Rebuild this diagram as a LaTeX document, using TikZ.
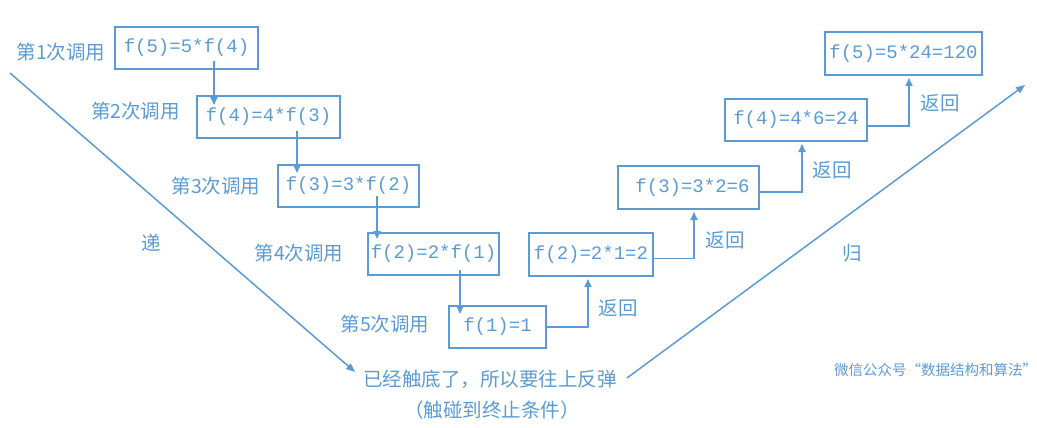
\documentclass[tikz,border=0pt]{standalone}
\usepackage{fontspec}
\setmainfont{Noto Sans CJK SC}
\newfontfamily\codefont{Liberation Mono}
\usetikzlibrary{arrows.meta}
\definecolor{mblue}{HTML}{5B9BD5}
\tikzset{
  box/.style={draw=mblue, line width=2pt, minimum height=42pt, inner sep=0pt, text=mblue, font=\codefont\fontsize{19}{19}\selectfont},
  lbl/.style={text=mblue, inner sep=0pt, font=\fontsize{19.5}{20}\selectfont},
  conn/.style={draw=mblue, line width=1.8pt, -{Triangle[length=8pt,width=7pt]}},
  vline/.style={draw=mblue, line width=1.5pt, -{Triangle[length=9pt,width=7pt]}}
}
\begin{document}
\begin{tikzpicture}[x=1pt,y=-1pt]
\useasboundingbox (0,0) rectangle (1037,428);
% call boxes
\node[box, minimum width=143pt] (b1) at (186.5,48) {f(5)=5*f(4)};
\node[box, minimum width=143pt] (b2) at (268.5,117) {f(4)=4*f(3)};
\node[box, minimum width=141pt] (b3) at (348.5,186) {f(3)=3*f(2)};
\node[box, minimum width=131pt] (b4) at (433.5,254) {f(2)=2*f(1)};
\node[box, minimum width=97pt] (b5) at (497.5,327) {f(1)=1};
% return boxes
\node[box, minimum width=124pt, minimum height=43pt] (b6) at (591,254.5) {f(2)=2*1=2};
\node[box, minimum width=141pt, minimum height=43pt] (b7) at (688.5,187.5) {\hspace{8pt}f(3)=3*2=6};
\node[box, minimum width=142pt] (b8) at (796,120) {f(4)=4*6=24};
\node[box, minimum width=157pt, minimum height=43pt] (b9) at (903.5,53.5) {f(5)=5*24=120};
% call labels
\node[lbl] (c1) at (61,52) {第1次调用};
\node[lbl] (c2) at (135.5,111) {第2次调用};
\node[lbl] (c3) at (216,186) {第3次调用};
\node[lbl] (c4) at (299,253) {第4次调用};
\node[lbl] (c5) at (385,324) {第5次调用};
% return labels
\node[lbl] (r1) at (618,308) {返回};
\node[lbl] (r2) at (725,240) {返回};
\node[lbl] (r3) at (832,170) {返回};
\node[lbl] (r4) at (940,103) {返回};
\node[lbl] (di) at (151,243) {递};
\node[lbl] (gui) at (852,253) {归};
\node[lbl] (bottom) at (490,379) {已经触底了，所以要往上反弹};
\node[lbl] (cond) at (492,410) {（触碰到终止条件）};
\node[lbl, font=\fontsize{14.5}{15}\selectfont] (wm) at (935.5,370) {微信公众号“数据结构和算法”};
% downward call arrows
\draw[conn] ([xshift=27.5pt,yshift=9pt]b1.south) -- ([xshift=-54.5pt,yshift=-10pt]b2.north);
\draw[conn] ([xshift=28.5pt,yshift=8pt]b2.south) -- ([xshift=-51.5pt,yshift=-9pt]b3.north);
\draw[conn] ([xshift=28.5pt,yshift=12pt]b3.south) -- ([xshift=-56.5pt,yshift=-7pt]b4.north);
\draw[conn] ([xshift=26.5pt,yshift=6pt]b4.south) -- ([xshift=-37.5pt,yshift=-9pt]b5.north);
% return arrows
\draw[conn] (b5.east) -| ([xshift=-3pt,yshift=-2pt]b6.south);
\draw[conn] ([yshift=-4pt]b6.east) -| ([xshift=5.5pt,yshift=-2pt]b7.south);
\draw[conn] ([yshift=-4.5pt]b7.east) -| ([xshift=6pt,yshift=-2pt]b8.south);
\draw[conn] ([yshift=-6pt]b8.east) -| ([xshift=5.5pt,yshift=-2pt]b9.south);
% V lines
\coordinate (vstart) at (10,73);
\coordinate (vend) at (1025,85);
\draw[vline] (vstart) -- ([xshift=-8pt,yshift=7pt]bottom.west);
\draw[vline] ([xshift=10pt,yshift=1pt]bottom.east) -- (vend);
\end{tikzpicture}
\end{document}
